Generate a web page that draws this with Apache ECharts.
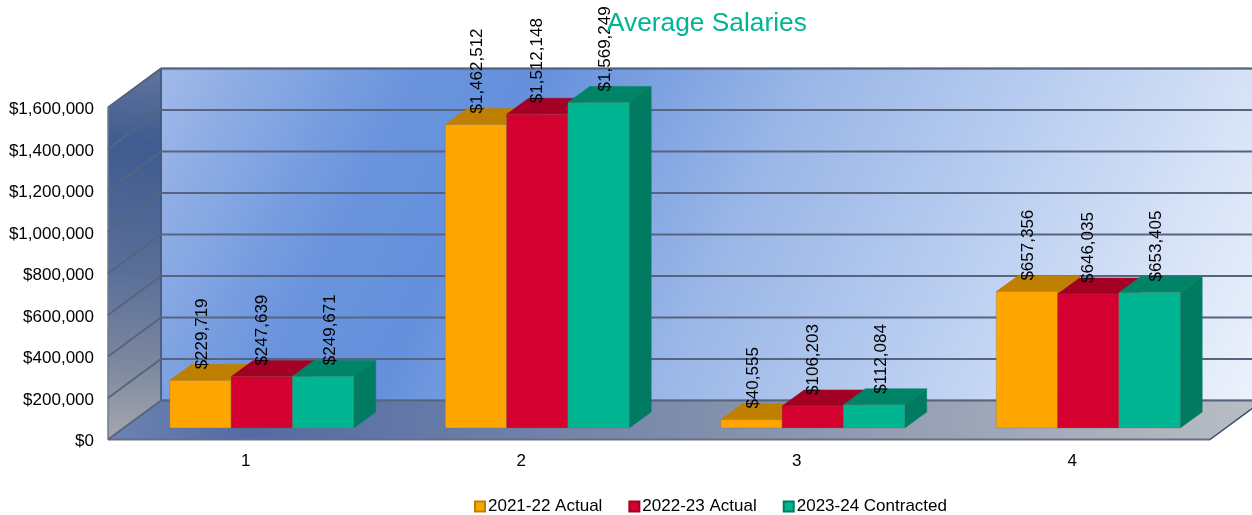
<!DOCTYPE html>
<html>
<head>
<meta charset="utf-8">
<title>Average Salaries</title>
<script src="https://cdn.jsdelivr.net/npm/echarts@6/dist/echarts.min.js"></script>
<style>
html, body { margin: 0; padding: 0; background: #fff; }
#chart { width: 1252px; height: 515px; }
</style>
</head>
<body>
<div id="chart"></div>
<script>
var categories = ['1', '2', '3', '4'];
var actual2122 = [229719, 1462512, 40555, 657356];
var actual2223 = [247639, 1512148, 106203, 646035];
var contracted2324 = [249671, 1569249, 112084, 653405];
var yTicks = [0, 200000, 400000, 600000, 800000, 1000000, 1200000, 1400000, 1600000];

var ROOM_DX = 53, ROOM_DY = -39;   // depth of the box
var BAR_DX = 22, BAR_DY = -16;     // depth of a bar
var BAR_IN_X = 16, BAR_IN_Y = -11.5; // bars stand a bit behind the front edge
var font = '"Liberation Sans", Arial, sans-serif';

function money(v) {
    return '$' + String(v).replace(/\B(?=(\d{3})+$)/g, ',');
}
function grad(x0, y0, x1, y1, stops) {
    return new echarts.graphic.LinearGradient(x0, y0, x1, y1, stops, true);
}
function poly(points, style, z2) {
    return { type: 'polygon', shape: { points: points }, style: style, z2: z2 || 0, silent: true };
}

function renderRoom(params, api) {
    var c = params.coordSys;
    var l = c.x, r = c.x + c.width, t = c.y, b = c.y + c.height;
    var wall = poly([[l + ROOM_DX, t + ROOM_DY], [r + ROOM_DX, t + ROOM_DY], [r + ROOM_DX, b + ROOM_DY], [l + ROOM_DX, b + ROOM_DY]], {
        fill: grad(161, 68, 1175, 575, [
            { offset: 0, color: '#a0b9e8' },
            { offset: 0.2, color: '#6a94dd' },
            { offset: 0.3, color: '#6490dc' },
            { offset: 0.52, color: '#9bb7e7' },
            { offset: 0.7, color: '#b8cdf0' },
            { offset: 1, color: '#eef3fc' }
        ]),
        stroke: '#4a5a7c', lineWidth: 1.5
    });
    var side = poly([[l, t], [l + ROOM_DX, t + ROOM_DY], [l + ROOM_DX, b + ROOM_DY], [l, b]], {
        fill: grad(135, 70, 120, 439, [
            { offset: 0, color: '#5f749c' },
            { offset: 0.2, color: '#3f5b90' },
            { offset: 0.55, color: '#5a6f98' },
            { offset: 0.8, color: '#7d889f' },
            { offset: 1, color: '#a5a8ac' }
        ])
    });
    var floor = poly([[l, b], [r, b], [r + ROOM_DX, b + ROOM_DY], [l + ROOM_DX, b + ROOM_DY]], {
        fill: grad(108, 439, 1263, 439, [
            { offset: 0, color: '#6d84b3' },
            { offset: 0.12, color: '#526ba3' },
            { offset: 0.55, color: '#8592ad' },
            { offset: 1, color: '#babdc3' }
        ])
    });
    var edge = { stroke: '#33456b', lineWidth: 1.5 };
    return {
        type: 'group',
        children: [
            wall, side, floor,
            { type: 'line', shape: { x1: l, y1: t, x2: l + ROOM_DX, y2: t + ROOM_DY }, style: edge, silent: true },
            { type: 'line', shape: { x1: l, y1: t, x2: l, y2: b }, style: { stroke: '#717a8e', lineWidth: 1.5 }, silent: true },
            { type: 'line', shape: { x1: l, y1: b, x2: r, y2: b }, style: { stroke: '#667084', lineWidth: 2 }, silent: true },
            { type: 'line', shape: { x1: r, y1: b, x2: r + ROOM_DX, y2: b + ROOM_DY }, style: edge, silent: true },
            { type: 'line', shape: { x1: l + ROOM_DX, y1: t + ROOM_DY, x2: l + ROOM_DX, y2: b + ROOM_DY }, style: { stroke: '#44567c', lineWidth: 1.5 }, silent: true }
        ]
    };
}

function renderGridline(params, api) {
    var c = params.coordSys;
    var y = api.coord([0, api.value(1)])[1];
    var l = c.x, r = c.x + c.width;
    var style = { stroke: '#566480', lineWidth: 2 };
    return {
        type: 'group',
        children: [
            { type: 'line', shape: { x1: l, y1: y, x2: l + ROOM_DX, y2: y + ROOM_DY }, style: style, silent: true },
            { type: 'line', shape: { x1: l + ROOM_DX, y1: y + ROOM_DY, x2: r + ROOM_DX, y2: y + ROOM_DY }, style: style, silent: true }
        ]
    };
}

function barRenderer(index, colors, labelShift) {
    return function (params, api) {
        var cat = api.value(0), val = api.value(1);
        var band = api.size([1, 0])[0];
        var w = band * 0.2225;
        var base = api.coord([cat, 0]);
        var top = api.coord([cat, val]);
        var x0 = base[0] + BAR_IN_X + (index - 1.5) * w;
        var x1 = x0 + w;
        var yb = base[1] + BAR_IN_Y;
        var yt = top[1] + BAR_IN_Y;
        var edge = 'rgba(110,110,90,0.3)';
        return {
            type: 'group',
            children: [
                poly([[x1, yb], [x1 + BAR_DX, yb + BAR_DY], [x1 + BAR_DX, yt + BAR_DY], [x1, yt]], { fill: colors.side, stroke: colors.side, lineWidth: 0.5 }),
                poly([[x0, yt], [x0 + BAR_DX, yt + BAR_DY], [x1 + BAR_DX, yt + BAR_DY], [x1, yt]], { fill: colors.top, stroke: colors.top, lineWidth: 0.5 }),
                poly([[x0, yb], [x1, yb], [x1, yt], [x0, yt]], { fill: colors.front, stroke: edge, lineWidth: 1 }),
                {
                    type: 'text',
                    x: (x0 + x1) / 2 + labelShift,
                    y: yt - 11,
                    rotation: Math.PI / 2,
                    silent: true,
                    z2: 100,
                    style: { text: money(val), fill: '#000', font: '17px ' + font, textAlign: 'left', textVerticalAlign: 'middle' }
                }
            ]
        };
    };
}

function pairs(values) {
    return values.map(function (v, i) { return [i, v]; });
}
function barSeries(name, values, index, colors, labelShift) {
    return {
        name: name,
        type: 'custom',
        z: 4,
        renderItem: barRenderer(index, colors, labelShift),
        encode: { x: 0, y: 1 },
        itemStyle: { color: colors.front, borderColor: colors.side, borderWidth: 1 },
        data: pairs(values)
    };
}

var myChart = echarts.init(document.getElementById('chart'), null, { renderer: 'canvas' });
var option = {
    animation: false,
    textStyle: { fontFamily: font },
    title: {
        text: 'Average Salaries',
        left: 602,
        top: 6,
        textStyle: { color: '#00b591', fontSize: 26.3, fontWeight: 'normal', fontFamily: font }
    },
    legend: {
        left: 469,
        top: 493,
        icon: 'rect',
        itemWidth: 10,
        itemHeight: 10,
        itemGap: 26,
        selectedMode: false,
        data: ['2021-22 Actual', '2022-23 Actual', '2023-24 Contracted'],
        textStyle: { color: '#000', fontSize: 17, fontFamily: font, padding: [0, 0, 0, -2] }
    },
    grid: { left: 108, right: 42, top: 107.5, bottom: 75.5, containLabel: false },
    xAxis: {
        type: 'category',
        data: categories,
        axisLine: { show: false },
        axisTick: { show: false },
        axisLabel: { color: '#000', fontSize: 17, margin: 13 }
    },
    yAxis: {
        type: 'value',
        min: 0,
        max: 1600000,
        interval: 200000,
        splitLine: { show: false },
        axisLine: { show: false },
        axisTick: { show: false },
        axisLabel: {
            margin: 14,
            formatter: function (v) { return '{t|' + money(v) + '}'; },
            rich: { t: { color: '#000', fontSize: 17, fontFamily: font, padding: [4, 0, 0, 0] } }
        }
    },
    series: [
        { name: 'room', type: 'custom', z: 1, silent: true, renderItem: renderRoom, encode: { x: 0, y: 1 }, data: [[0, 0]] },
        { name: 'gridlines', type: 'custom', z: 2, silent: true, renderItem: renderGridline, encode: { x: 0, y: 1 }, data: pairs(yTicks).map(function (p) { return [0, p[1]]; }) },
        barSeries('2021-22 Actual', actual2122, 0, { front: '#ffa500', top: '#bf7f00', side: '#bf7f00' }, 1.5),
        barSeries('2022-23 Actual', actual2223, 1, { front: '#d40030', top: '#a30024', side: '#a30024' }, 0.5),
        barSeries('2023-24 Contracted', contracted2324, 2, { front: '#00b591', top: '#008468', side: '#007a60' }, 7)
    ]
};
myChart.setOption(option);
</script>
</body>
</html>
